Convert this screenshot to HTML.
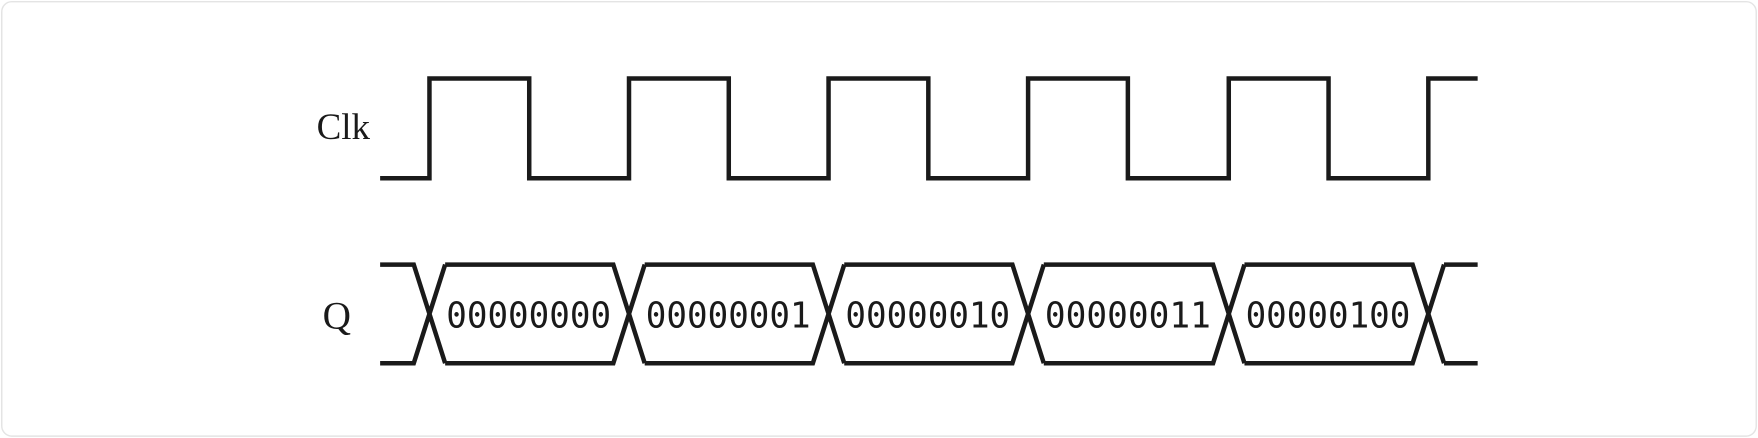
<!DOCTYPE html>
<html><head><meta charset="utf-8"><style>
html,body{margin:0;padding:0;background:#fff;}
svg{display:block;}
</style></head><body>
<svg width="1758" height="438" viewBox="0 0 1568 390.7">
<rect x="1.5" y="1.5" width="1565" height="387.5" rx="9" fill="#fff" stroke="#e4e4e4" stroke-width="1.3"/>
<text x="330" y="124" text-anchor="end" font-family="'Liberation Serif',serif" font-size="33" fill="#1a1a1a">Clk</text>
<text x="313" y="293" text-anchor="end" font-family="'Liberation Serif',serif" font-size="35" fill="#1a1a1a">Q</text>
<g id="clk"></g>
<g id="q"></g>
</svg>
<script>
const edges=[383,561,739,917,1096,1274];
const values=["00000000","00000001","00000010","00000011","00000100"];
const xStart=339,xEnd=1318,hi=70,lo=159,qTop=236,qBot=324,slant=14;
const NS="http://www.w3.org/2000/svg";
const half=(edges[1]-edges[0])/2;
let d=`M${xStart},${lo}`;
edges.forEach((e,i)=>{
  d+=` L${e},${lo} L${e},${hi}`;
  const f=e+half;
  if(f<xEnd) d+=` L${f},${hi} L${f},${lo}`;
});
d+=` L${xEnd},${hi}`;
const cp=document.createElementNS(NS,'path');


cp.setAttribute('d',d);cp.setAttribute('fill','none');cp.setAttribute('stroke','#1a1a1a');cp.setAttribute('stroke-width','4');
document.getElementById('clk').appendChild(cp);
const q=document.getElementById('q');
const mid=(qTop+qBot)/2;
function line(dd,name){const p=document.createElementNS(NS,'path');


p.setAttribute('d',dd);p.setAttribute('fill','none');p.setAttribute('stroke','#1a1a1a');p.setAttribute('stroke-width','4');q.appendChild(p);}
line(`M${xStart},${qTop} L${edges[0]-slant},${qTop} L${edges[0]+slant},${qBot} M${xStart},${qBot} L${edges[0]-slant},${qBot} L${edges[0]+slant},${qTop}`,'q-start');
values.forEach((v,i)=>{
  const a=edges[i],b=edges[i+1];
  line(`M${a+slant},${qTop} L${b-slant},${qTop} L${b+slant},${qBot} M${a+slant},${qBot} L${b-slant},${qBot} L${b+slant},${qTop}`,'q-segment');
  const t=document.createElementNS(NS,'text');
  
  
  t.setAttribute('x',a+slant+1);t.setAttribute('y',mid+12);
  t.setAttribute('font-family',"'DejaVu Sans Mono','Liberation Mono',monospace");
  t.setAttribute('font-size','32');t.setAttribute('fill','#1a1a1a');
  t.setAttribute('textLength',b-a-2*slant-3);t.setAttribute('lengthAdjust','spacingAndGlyphs');
  t.textContent=v;q.appendChild(t);
});
const last=edges[edges.length-1];
line(`M${last+slant},${qTop} L${xEnd},${qTop} M${last+slant},${qBot} L${xEnd},${qBot}`,'q-end');
</script>
</body></html>
